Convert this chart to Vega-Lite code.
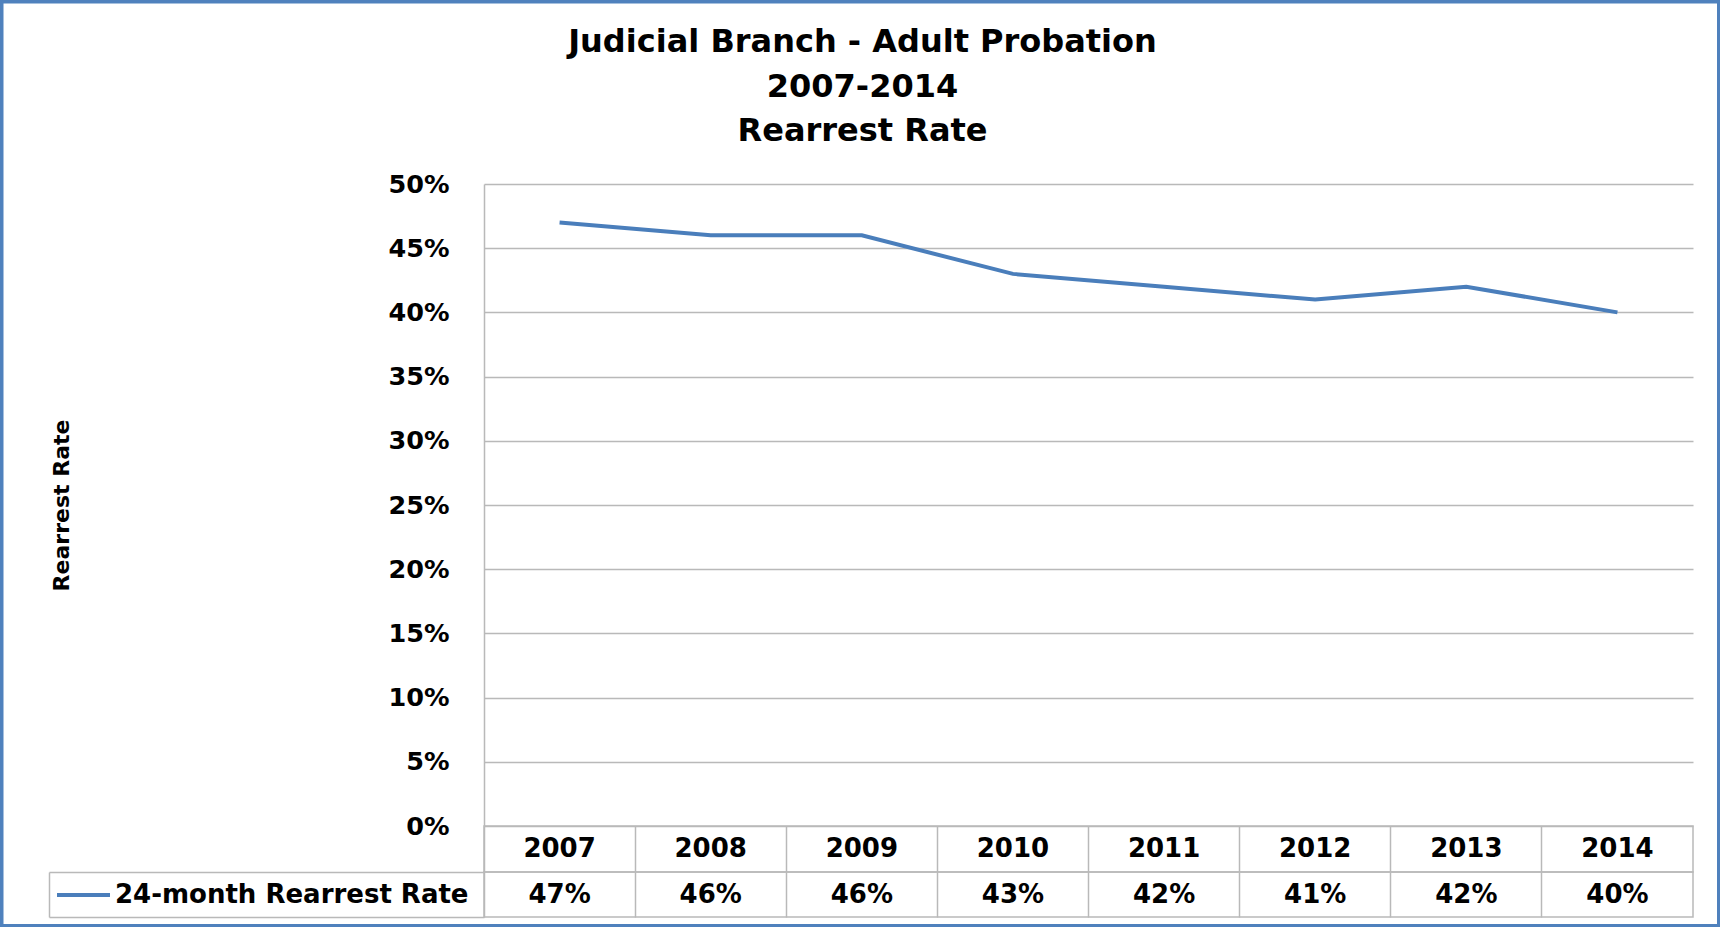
{
  "$schema": "https://vega.github.io/schema/vega-lite/v6.json",
  "padding": 0,
  "background": "white",
  "datasets": {
    "d": [
      {"year": "2007", "rate": 0.47, "series": "24-month Rearrest Rate"},
      {"year": "2008", "rate": 0.46, "series": "24-month Rearrest Rate"},
      {"year": "2009", "rate": 0.46, "series": "24-month Rearrest Rate"},
      {"year": "2010", "rate": 0.43, "series": "24-month Rearrest Rate"},
      {"year": "2011", "rate": 0.42, "series": "24-month Rearrest Rate"},
      {"year": "2012", "rate": 0.41, "series": "24-month Rearrest Rate"},
      {"year": "2013", "rate": 0.42, "series": "24-month Rearrest Rate"},
      {"year": "2014", "rate": 0.40, "series": "24-month Rearrest Rate"}
    ]
  },
  "config": {
    "font": "DejaVu Sans",
    "view": {"stroke": null},
    "legend": {"strokeWidth": 3.5}
  },
  "spacing": 0,
  "bounds": "flush",
  "vconcat": [
    {
      "width": 1209,
      "height": 642,
      "title": {
        "text": ["Judicial Branch - Adult Probation", "2007-2014", "Rearrest Rate"],
        "font": "DejaVu Sans",
        "fontSize": 32,
        "fontWeight": "bold",
        "color": "#000000",
        "lineHeight": 44.5,
        "anchor": "middle",
        "dx": -226,
        "offset": 24
      },
      "data": {"name": "d"},
      "mark": {"type": "line", "strokeWidth": 4},
      "encoding": {
        "x": {
          "field": "year", "type": "nominal", "bandPosition": 0.5,
          "scale": {"type": "band", "paddingInner": 0, "paddingOuter": 0},
          "axis": null
        },
        "y": {
          "field": "rate", "type": "quantitative",
          "scale": {"domain": [0, 0.5]},
          "axis": {
            "values": [0, 0.05, 0.1, 0.15, 0.2, 0.25, 0.3, 0.35, 0.4, 0.45, 0.5],
            "format": ".0%",
            "grid": true, "gridColor": "#b9b9b9", "gridWidth": 1.5,
            "domainColor": "#b9b9b9", "domainWidth": 1.5,
            "ticks": false,
            "labelPadding": 35, "labelFontSize": 25.5, "labelFontWeight": "bold", "labelColor": "#000000",
            "title": "Rearrest Rate", "titleFontSize": 22, "titleFontWeight": "bold", "titleColor": "#000000",
            "titleX": -423, "titleY": 321, "titleBaseline": "middle", "titleAngle": 270
          }
        },
        "color": {
          "field": "series", "type": "nominal",
          "scale": {"range": ["#4a7ebb"]},
          "legend": {
            "orient": "none", "legendX": -429, "legendY": 682.5, "title": null,
            "symbolType": "stroke", "symbolSize": 2809, "symbolStrokeWidth": 4,
            "labelFontSize": 26, "labelFontWeight": "bold", "labelColor": "#000000",
            "labelOffset": 3, "labelLimit": 0, "padding": 0
          }
        }
      }
    },
    {
      "width": 1209,
      "height": 46,
      "view": {"stroke": "#b9b9b9", "strokeWidth": 1.5},
      "data": {"name": "d"},
      "mark": {"type": "text", "fontSize": 26, "fontWeight": "bold", "baseline": "middle", "color": "#000000"},
      "encoding": {
        "x": {
          "field": "year", "type": "nominal", "bandPosition": 0.5,
          "scale": {"type": "band", "paddingInner": 0, "paddingOuter": 0},
          "axis": {"grid": true, "bandPosition": 0, "gridColor": "#b9b9b9", "gridWidth": 1.5, "labels": false, "ticks": false, "domain": false, "title": null}
        },
        "text": {"field": "year", "type": "nominal"}
      }
    },
    {
      "width": 1209,
      "height": 45,
      "view": {"stroke": "#b9b9b9", "strokeWidth": 1.5},
      "data": {"name": "d"},
      "mark": {"type": "text", "fontSize": 26, "fontWeight": "bold", "baseline": "middle"},
      "encoding": {
        "x": {
          "field": "year", "type": "nominal", "bandPosition": 0.5,
          "scale": {"type": "band", "paddingInner": 0, "paddingOuter": 0},
          "axis": {"grid": true, "bandPosition": 0, "gridColor": "#b9b9b9", "gridWidth": 1.5, "labels": false, "ticks": false, "domain": false, "title": null}
        },
        "y": {
          "datum": "24-month Rearrest Rate", "type": "nominal", "bandPosition": 0.5,
          "scale": {"type": "band", "paddingInner": 0, "paddingOuter": 0},
          "axis": {
            "offset": 435, "labels": false, "title": null,
            "domainColor": "#b9b9b9", "domainWidth": 1.5,
            "ticks": true, "tickBand": "extent", "tickSize": -435, "tickColor": "#b9b9b9", "tickWidth": 1.5
          }
        },
        "text": {"field": "rate", "type": "quantitative", "format": ".0%"},
        "fill": {
          "field": "rate", "type": "quantitative",
          "scale": {"range": ["#000000", "#000000"]},
          "legend": {
            "orient": "none", "legendX": -482.25, "legendY": -182.25, "direction": "vertical", "title": null,
            "gradientLength": 923.5, "gradientThickness": 1716.5, "gradientOpacity": 0, "gradientStrokeWidth": 0,
            "labelExpr": "''", "labelOffset": 0, "padding": 0, "strokeColor": "#4f81bd"
          }
        }
      }
    }
  ]
}
